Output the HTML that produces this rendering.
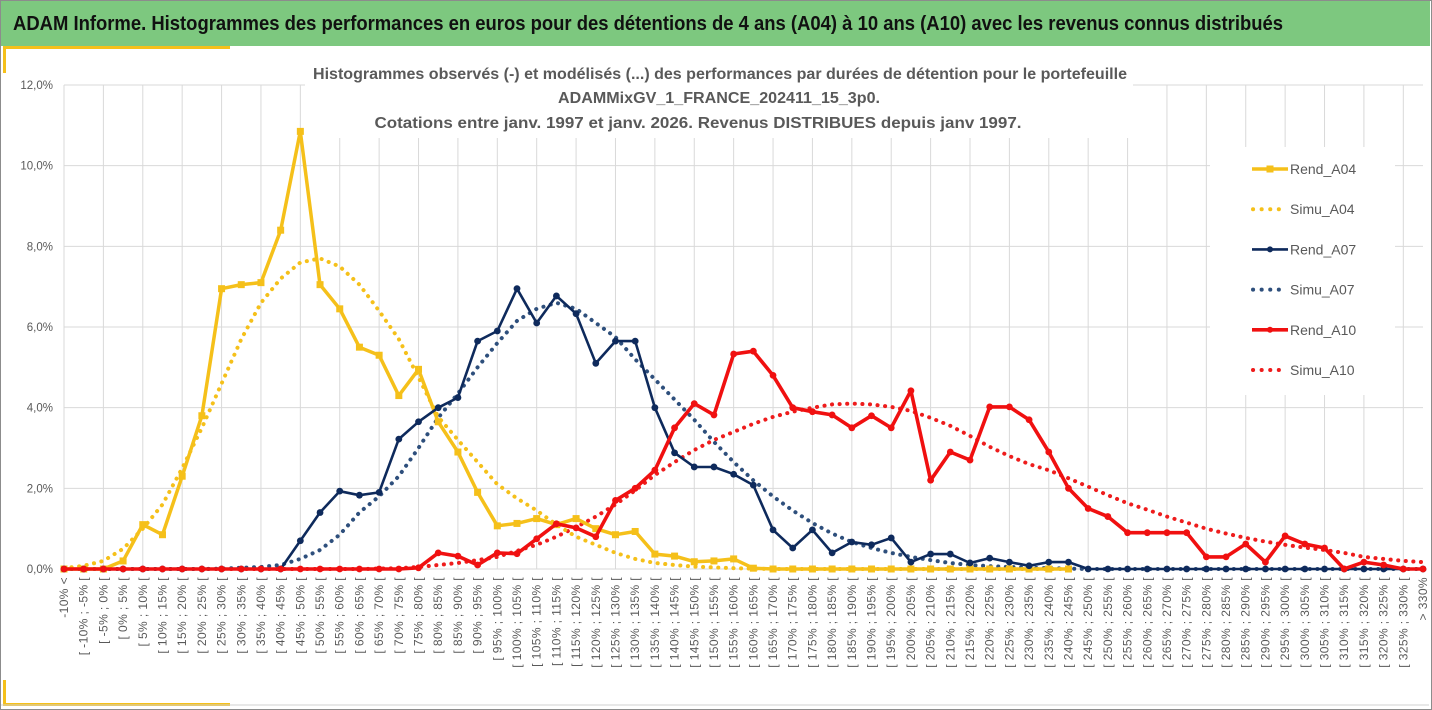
<!DOCTYPE html>
<html><head><meta charset="utf-8"><style>
html,body{margin:0;padding:0;background:#fff;}
svg{display:block;font-family:"Liberation Sans",sans-serif;}
</style></head><body>
<svg id="chart" width="1432" height="710" viewBox="0 0 1432 710" xmlns="http://www.w3.org/2000/svg">
<rect x="0.5" y="0.5" width="1431" height="709" fill="#fff" stroke="#8c8c8c"/>
<rect x="1" y="1" width="1429" height="45" fill="#7dc87f"/>
<text x="13" y="30" font-size="20" font-weight="bold" fill="#111" textLength="1270" lengthAdjust="spacingAndGlyphs">ADAM Informe. Histogrammes des performances en euros pour des détentions de 4 ans (A04) à 10 ans (A10) avec les revenus connus distribués</text>
<rect x="4" y="46" width="226" height="3" fill="#f5c01a"/>
<rect x="3" y="46" width="3" height="27" fill="#f5c01a"/>
<rect x="4" y="703" width="226" height="3" fill="#f5c01a"/>
<rect x="3" y="680" width="3" height="26" fill="#f5c01a"/>
<line x1="1" y1="705" x2="1429" y2="705" stroke="#d0d0d0"/>
<g id="grid"></g>
<rect x="305" y="58" width="828" height="80" fill="#fff"/>
<g font-size="15.5" font-weight="bold" fill="#595959" text-anchor="middle">
<text x="720" y="79" textLength="814" lengthAdjust="spacingAndGlyphs">Histogrammes observés (-) et modélisés (...) des performances par durées de détention pour le portefeuille</text>
<text x="719" y="103" textLength="322" lengthAdjust="spacingAndGlyphs">ADAMMixGV_1_FRANCE_202411_15_3p0.</text>
<text x="698" y="128" textLength="647" lengthAdjust="spacingAndGlyphs">Cotations entre janv. 1997 et janv. 2026. Revenus DISTRIBUES depuis janv 1997.</text>
</g>
<g id="yaxis"></g>
<g id="xaxis"></g>
<g id="series"></g>
<rect x="1210" y="147" width="185" height="248" fill="#fff"/>
<g id="legend"></g>
</svg>
<script>
const yTicks = [0, 2, 4, 6, 8, 10, 12];
const rendA04 = [0,0,0,0.2,1.1,0.85,2.3,3.8,6.95,7.05,7.1,8.4,10.85,7.05,6.45,5.5,5.3,4.3,4.95,3.65,2.9,1.9,1.07,1.13,1.25,1.1,1.25,1.0,0.85,0.93,0.37,0.32,0.18,0.2,0.25,0.02,0,0,0,0,0,0,0,0,0,0,0,0,0,0,0,0];
const simuA04 = [0.02,0.08,0.2,0.5,1.0,1.6,2.5,3.5,4.6,5.7,6.6,7.2,7.6,7.7,7.5,7.05,6.4,5.7,4.75,3.77,3.2,2.65,2.1,1.75,1.45,1.1,0.8,0.6,0.4,0.25,0.15,0.1,0.06,0.04,0.02,0.01,0,0,0,0,0,0,0,0,0,0,0,0,0,0,0,0];
const rendA07 = [0,0,0,0,0,0,0,0,0,0,0,0,0.7,1.4,1.93,1.83,1.9,3.22,3.65,4.0,4.25,5.65,5.9,6.95,6.1,6.77,6.33,5.1,5.65,5.65,4.0,2.88,2.53,2.53,2.35,2.08,0.97,0.52,0.97,0.4,0.67,0.6,0.77,0.17,0.37,0.37,0.15,0.27,0.17,0.08,0.17,0.17,0,0,0,0,0,0,0,0,0,0,0,0,0,0,0,0,0,0];
const simuA07 = [0,0,0,0,0,0,0,0,0.01,0.03,0.05,0.1,0.25,0.47,0.85,1.4,1.8,2.3,3.0,3.75,4.35,5.0,5.6,6.15,6.45,6.6,6.45,6.1,5.75,5.2,4.7,4.2,3.7,3.15,2.65,2.2,1.8,1.45,1.14,0.88,0.67,0.52,0.4,0.3,0.22,0.15,0.1,0.07,0.05,0.03,0.02,0.01,0,0,0,0,0,0,0,0,0,0,0,0,0,0,0,0,0,0];
const rendA10 = [0,0,0,0,0,0,0,0,0,0,0,0,0,0,0,0,0,0,0.03,0.4,0.32,0.1,0.4,0.38,0.75,1.12,1.02,0.8,1.7,2.0,2.45,3.5,4.1,3.82,5.33,5.4,4.8,4.0,3.9,3.82,3.5,3.8,3.5,4.42,2.2,2.9,2.7,4.02,4.02,3.7,2.9,2.0,1.5,1.3,0.9,0.9,0.9,0.9,0.3,0.3,0.62,0.17,0.82,0.62,0.52,0,0.17,0.1,0,0];
const simuA10 = [0,0,0,0,0,0,0,0,0,0,0,0,0,0,0,0,0.01,0.02,0.05,0.1,0.15,0.22,0.3,0.45,0.6,0.8,1.04,1.3,1.6,1.95,2.33,2.65,2.95,3.2,3.4,3.6,3.77,3.9,4.0,4.08,4.1,4.08,4.02,3.92,3.75,3.55,3.3,3.03,2.8,2.6,2.45,2.25,2.04,1.83,1.63,1.47,1.3,1.15,1.0,0.88,0.77,0.68,0.6,0.53,0.47,0.4,0.3,0.25,0.2,0.17];
const seriesNames = ["Rend_A04","Simu_A04","Rend_A07","Simu_A07","Rend_A10","Simu_A10"];

const NS = "http://www.w3.org/2000/svg";
const categories = ["-10% <"];
for (let v = -10; v <= 325; v += 5) categories.push("[ " + v + "% ; " + (v + 5) + "% [");
categories.push("> 330%");

const X0 = 64, DX = (1423 - 64) / 69, Y0 = 569, PY = (569 - 85) / 12;
function xs(i){ return X0 + i * DX; }
function ys(v){ return Y0 - v * PY; }
function mk(tag, attrs, parent){ const e = document.createElementNS(NS, tag); for (const k in attrs) e.setAttribute(k, attrs[k]); parent.appendChild(e); return e; }

const grid = document.getElementById('grid');
yTicks.forEach(t => {
  const l = mk('line', {x1: X0, x2: 1423, y1: ys(t), y2: ys(t), stroke: '#d9d9d9', 'stroke-width': 1}, grid);
  
  
});
for (let i = 0; i < categories.length; i += 2) {
  const l = mk('line', {x1: xs(i), x2: xs(i), y1: ys(12), y2: Y0, stroke: '#d9d9d9', 'stroke-width': 1}, grid);
  
  
}

const yax = document.getElementById('yaxis');
yTicks.forEach(t => {
  const tx = mk('text', {x: 53, y: ys(t) + 4, 'text-anchor': 'end', 'font-size': 11.5, fill: '#595959'}, yax);
  tx.textContent = t.toFixed(1).replace('.', ',') + '%';
  
  
});

const xax = document.getElementById('xaxis');
categories.forEach((c, i) => {
  const tx = mk('text', {x: 0, y: 0, 'text-anchor': 'end', 'font-size': 12, 'letter-spacing': 0.4, fill: '#595959', transform: 'translate(' + (xs(i) + 4) + ',577) rotate(-90)'}, xax);
  tx.textContent = c;
  
  
});

const ser = document.getElementById('series');
function pts(arr){ return arr.map((v, i) => xs(i).toFixed(1) + ',' + ys(v).toFixed(1)).join(' '); }
function drawDotted(arr, color, name){
  const p = mk('polyline', {points: pts(arr), fill: 'none', stroke: color, 'stroke-width': 4, 'stroke-dasharray': '0.1 7.5', 'stroke-linecap': 'round'}, ser);
  
  
}
function drawSolid(arr, color, width, marker, name){
  const p = mk('polyline', {points: pts(arr), fill: 'none', stroke: color, 'stroke-width': width, 'stroke-linejoin': 'round'}, ser);
  
  
  arr.forEach((v, i) => {
    let m;
    if (marker === 'square') m = mk('rect', {x: xs(i) - 3.5, y: ys(v) - 3.5, width: 7, height: 7, fill: color}, ser);
    else m = mk('circle', {cx: xs(i), cy: ys(v), r: 3.4, fill: color}, ser);
    
    
  });
}
drawDotted(simuA10, '#ee1c1c', 'simu-a10-line');
drawDotted(simuA07, '#2e4f7c', 'simu-a07-line');
drawDotted(simuA04, '#f5c01a', 'simu-a04-line');
drawSolid(rendA04, '#f5c01a', 3.5, 'square', 'rend-a04-line');
drawSolid(rendA07, '#0e2a5c', 2.6, 'circle', 'rend-a07-line');
drawSolid(rendA10, '#f01010', 3.6, 'circle', 'rend-a10-line');

const leg = document.getElementById('legend');
const legColors = ['#f5c01a','#f5c01a','#0e2a5c','#2e4f7c','#f01010','#ee1c1c'];
seriesNames.forEach((n, k) => {
  const y = 169 + k * 40.2;
  const g = mk('g', {}, leg);
  
  
  if (k % 2 === 0) {
    mk('line', {x1: 1252, x2: 1288, y1: y, y2: y, stroke: legColors[k], 'stroke-width': k === 2 ? 2.6 : 3.6}, g);
    if (k === 0) mk('rect', {x: 1266.5, y: y - 3.5, width: 7, height: 7, fill: legColors[k]}, g);
    else mk('circle', {cx: 1270, cy: y, r: 3, fill: legColors[k]}, g);
  } else {
    mk('line', {x1: 1253, x2: 1280, y1: y, y2: y, stroke: legColors[k], 'stroke-width': 4, 'stroke-dasharray': '0.1 8.5', 'stroke-linecap': 'round'}, g);
  }
  const t = mk('text', {x: 1290, y: y + 5, 'font-size': 14, fill: '#595959'}, g);
  t.textContent = n;
});
</script>
</body></html>
